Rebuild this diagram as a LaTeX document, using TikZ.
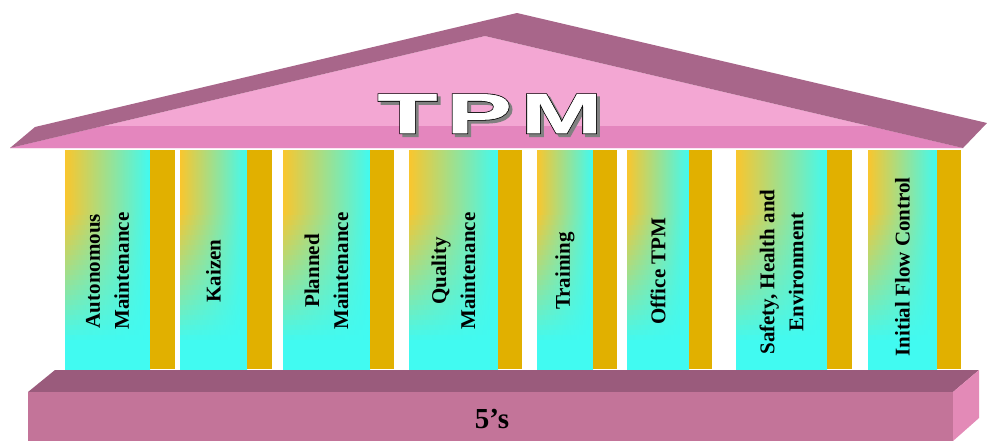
\documentclass[tikz,border=0pt]{standalone}
\usepackage{fontspec}
\setmainfont{Liberation Serif}
\newfontfamily\tpmfont[FakeStretch=1.75]{Liberation Sans}

\definecolor{roofband}{HTML}{A8668A}
\definecolor{roofpink}{HTML}{F3A7D3}
\definecolor{frieze}{HTML}{E486BE}
\definecolor{basetop}{HTML}{9A5B7C}
\definecolor{basefront}{HTML}{C37499}
\definecolor{baseside}{HTML}{E38AB7}
\definecolor{gold}{HTML}{E1B000}
\definecolor{colyellow}{HTML}{F9C62E}
\definecolor{colcyan}{HTML}{41FAF1}

\newcommand\tpmletters{T\kern9pt P\kern9pt M}

\begin{document}
\begin{tikzpicture}[x=1pt, y=-1pt,
  pillartext/.style={rotate=90, align=center, inner sep=0pt,
    font=\bfseries\fontsize{21}{29}\selectfont},
  basetext/.style={anchor=base, inner sep=0pt,
    font=\bfseries\fontsize{29}{29}\selectfont},
  tpmtext/.style={anchor=base, inner sep=0pt,
    font=\tpmfont\bfseries\fontsize{56}{56}\selectfont}]
\useasboundingbox (0,0) rectangle (987,442);

% roof: pink pediment, darker frieze, mauve gable band
\fill[roofpink] (10,148) -- (485,36) -- (963,148) -- cycle;
\begin{scope}
  \clip (10,148) -- (485,36) -- (963,148) -- cycle;
  \fill[frieze] (0,126) rectangle (987,149);
\end{scope}
\fill[roofband] (10,148) -- (35,127) -- (517,13) -- (987,123) -- (963,148) -- (485,36) -- cycle;

% title: grey shadow, heavy black stroke, white face
\node[tpmtext, text=gray] (tpmshadow) at (493,136) {\addfontfeature{FakeBold=4}\tpmletters};
\node[tpmtext, text=black] (tpmedge) at (490,133) {\addfontfeature{FakeBold=4}\tpmletters};
\node[tpmtext, text=white] (tpm) at (490,133) {\addfontfeature{FakeBold=1.2}\tpmletters};

% pillars: shaft built from thin strips, yellow on the upper left fading
% to cyan towards the right and the bottom; gold side strip
\foreach \a/\b/\c in {65/150/175, 180/247/272, 283/370/394, 409/498/522,
                      537/593/617, 627/689/712, 736/827/852, 868/937/961} {
  \foreach \k in {0,...,43} {
    \pgfmathsetmacro\p{max(0,min(100,100*(0.88-\k/43)/0.6))}
    \pgfmathsetmacro\q{0.55*\p}
    \shade[left color=colyellow!\p!colcyan, middle color=colyellow!\q!colcyan,
           right color=colcyan] (\a,150+5*\k) rectangle (\b,155.6+5*\k);
  }
  \fill[gold] (\b,150) rectangle (\c,369);
}

\node[pillartext] (p1) at (107.5,271) {Autonomous\\Maintenance};
\node[pillartext] (p2) at (213.5,271) {Kaizen};
\node[pillartext] (p3) at (326.5,271) {Planned\\Maintenance};
\node[pillartext] (p4) at (453.5,271) {Quality\\Maintenance};
\node[pillartext] (p5) at (565,271) {Training};
\node[pillartext] (p6) at (658,271) {Office TPM};
\node[pillartext] (p7) at (781.5,272) {Safety, Health and\\Environment};
\node[pillartext] (p8) at (902.5,267) {Initial Flow Control};

% base slab
\fill[basetop] (28,392) -- (55,370) -- (979,370) -- (953,392) -- cycle;
\fill[basefront] (28,392) rectangle (953,441);
\fill[baseside] (953,392) -- (979,370) -- (979,418) -- (953,441) -- cycle;
\node[basetext] (fives) at (492,428) {5’s};
\end{tikzpicture}
\end{document}
